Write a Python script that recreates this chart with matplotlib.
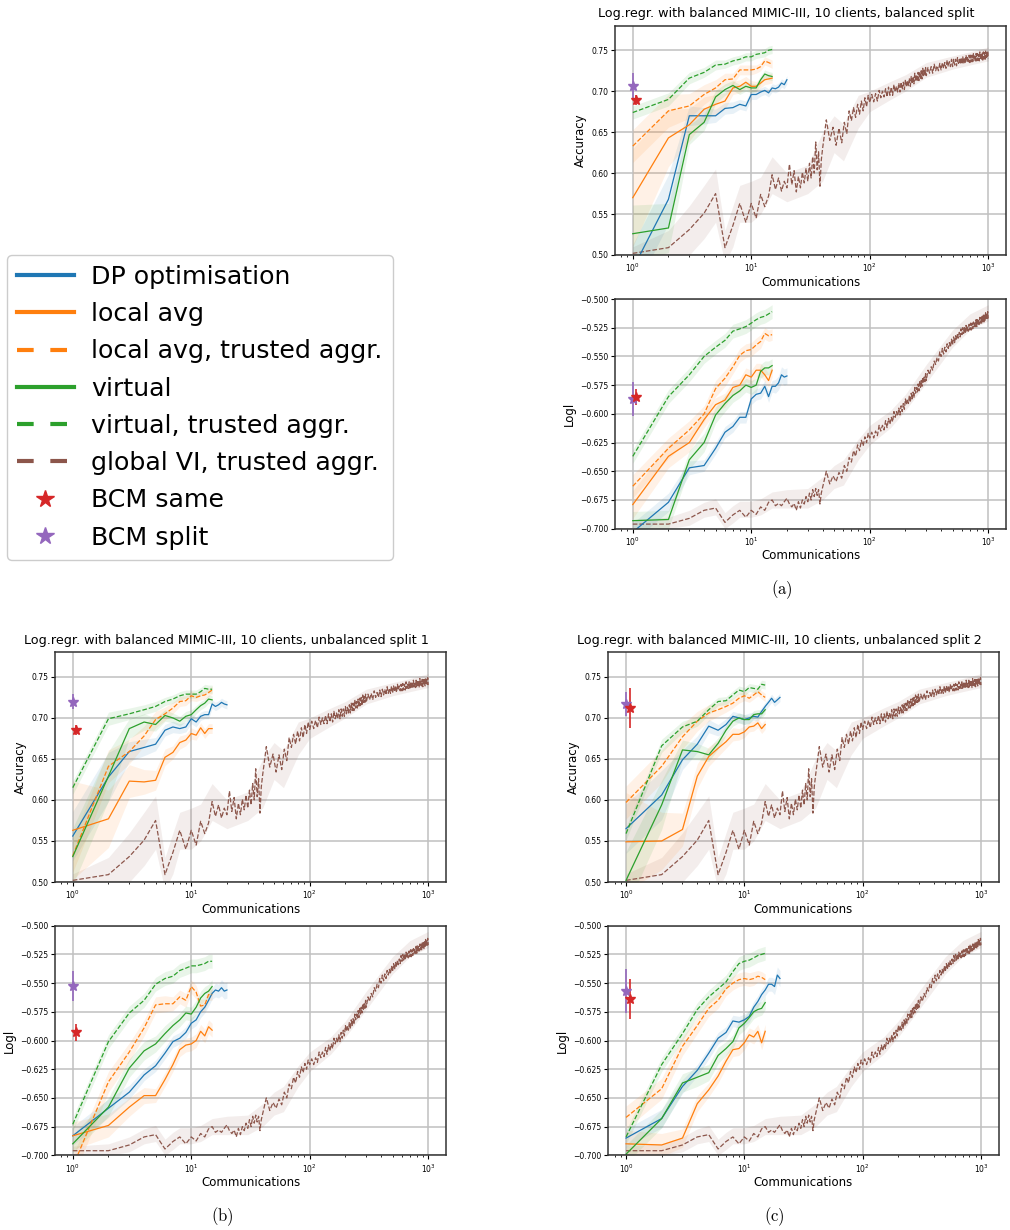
import numpy as np
import matplotlib.pyplot as plt
from matplotlib.lines import Line2D

# communications for the short runs
x20 = list(range(1, 21))
x15 = list(range(1, 16))

# ---- (a) balanced split
a_acc_dp = [0.483, 0.568, 0.670, 0.670, 0.670, 0.679, 0.680, 0.684, 0.682, 0.696, 0.696, 0.699, 0.701, 0.698, 0.704, 0.703, 0.705, 0.710, 0.708, 0.714]
a_acc_local = [0.570, 0.643, 0.659, 0.678, 0.684, 0.688, 0.704, 0.706, 0.711, 0.706, 0.706, 0.710, 0.714, 0.715, 0.716]
a_acc_local_ta = [0.633, 0.676, 0.682, 0.696, 0.704, 0.714, 0.715, 0.726, 0.726, 0.726, 0.727, 0.730, 0.737, 0.735, 0.733]
a_acc_virtual = [0.526, 0.533, 0.647, 0.662, 0.693, 0.702, 0.707, 0.702, 0.706, 0.704, 0.704, 0.714, 0.721, 0.719, 0.718]
a_acc_virtual_ta = [0.674, 0.690, 0.716, 0.723, 0.732, 0.733, 0.737, 0.739, 0.742, 0.742, 0.745, 0.746, 0.747, 0.750, 0.751]
a_ll_dp = [-0.703, -0.677, -0.647, -0.645, -0.630, -0.616, -0.611, -0.603, -0.603, -0.587, -0.583, -0.582, -0.576, -0.585, -0.576, -0.576, -0.573, -0.566, -0.568, -0.567]
a_ll_local = [-0.679, -0.637, -0.625, -0.605, -0.592, -0.588, -0.577, -0.575, -0.566, -0.568, -0.562, -0.562, -0.566, -0.571, -0.562]
a_ll_local_ta = [-0.663, -0.630, -0.614, -0.600, -0.578, -0.569, -0.559, -0.549, -0.545, -0.544, -0.540, -0.537, -0.530, -0.532, -0.531]
a_ll_virtual = [-0.693, -0.692, -0.640, -0.625, -0.601, -0.591, -0.584, -0.580, -0.575, -0.577, -0.575, -0.563, -0.560, -0.560, -0.558]
a_ll_virtual_ta = [-0.637, -0.585, -0.566, -0.550, -0.542, -0.536, -0.528, -0.526, -0.524, -0.521, -0.518, -0.516, -0.515, -0.513, -0.511]
a_bcm_acc = [0.706, 0.016, 0.689, 0.006]   # split mean, err, same mean, err
a_bcm_ll = [-0.587, 0.015, -0.585, 0.007]

# ---- (b) unbalanced split 1
b_acc_dp = [0.556, 0.628, 0.659, 0.664, 0.668, 0.685, 0.689, 0.687, 0.689, 0.699, 0.695, 0.702, 0.704, 0.704, 0.717, 0.714, 0.716, 0.719, 0.717, 0.716]
b_acc_local = [0.563, 0.577, 0.623, 0.622, 0.624, 0.652, 0.658, 0.670, 0.673, 0.681, 0.679, 0.688, 0.681, 0.687, 0.687]
b_acc_local_ta = [0.532, 0.641, 0.659, 0.678, 0.698, 0.705, 0.712, 0.720, 0.721, 0.727, 0.725, 0.727, 0.728, 0.731, 0.734]
b_acc_virtual = [0.531, 0.629, 0.687, 0.695, 0.692, 0.703, 0.700, 0.696, 0.702, 0.704, 0.710, 0.715, 0.718, 0.723, 0.722]
b_acc_virtual_ta = [0.615, 0.699, 0.705, 0.710, 0.714, 0.720, 0.723, 0.727, 0.729, 0.729, 0.729, 0.732, 0.736, 0.735, 0.735]
b_ll_dp = [-0.683, -0.659, -0.645, -0.630, -0.622, -0.611, -0.601, -0.598, -0.593, -0.585, -0.582, -0.575, -0.571, -0.565, -0.559, -0.556, -0.557, -0.554, -0.557, -0.556]
b_ll_local = [-0.683, -0.674, -0.658, -0.648, -0.648, -0.634, -0.621, -0.608, -0.604, -0.603, -0.600, -0.592, -0.596, -0.588, -0.591]
b_ll_local_ta = [-0.710, -0.636, -0.610, -0.589, -0.569, -0.568, -0.568, -0.562, -0.565, -0.553, -0.558, -0.570, -0.569, -0.560, -0.560]
b_ll_virtual = [-0.690, -0.658, -0.624, -0.609, -0.603, -0.594, -0.587, -0.582, -0.576, -0.577, -0.571, -0.563, -0.559, -0.557, -0.553]
b_ll_virtual_ta = [-0.673, -0.601, -0.576, -0.565, -0.551, -0.546, -0.544, -0.539, -0.537, -0.535, -0.535, -0.534, -0.533, -0.531, -0.531]
b_bcm_acc = [0.720, 0.009, 0.685, 0.006]
b_bcm_ll = [-0.5525, 0.013, -0.593, 0.007]

# ---- (c) unbalanced split 2
c_acc_dp = [0.565, 0.606, 0.649, 0.668, 0.690, 0.685, 0.692, 0.702, 0.700, 0.698, 0.700, 0.702, 0.701, 0.708, 0.714, 0.719, 0.724, 0.719, 0.722, 0.725]
c_acc_local = [0.549, 0.550, 0.564, 0.629, 0.653, 0.663, 0.671, 0.680, 0.680, 0.683, 0.689, 0.690, 0.694, 0.687, 0.692]
c_acc_local_ta = [0.597, 0.641, 0.677, 0.696, 0.706, 0.710, 0.714, 0.718, 0.724, 0.727, 0.724, 0.728, 0.732, 0.728, 0.725]
c_acc_virtual = [0.502, 0.594, 0.661, 0.659, 0.655, 0.669, 0.685, 0.696, 0.700, 0.698, 0.698, 0.704, 0.705, 0.705, 0.710]
c_acc_virtual_ta = [0.559, 0.666, 0.689, 0.696, 0.710, 0.720, 0.721, 0.728, 0.734, 0.732, 0.737, 0.736, 0.735, 0.741, 0.740]
c_ll_dp = [-0.685, -0.668, -0.640, -0.626, -0.611, -0.598, -0.593, -0.583, -0.584, -0.582, -0.579, -0.571, -0.566, -0.560, -0.556, -0.551, -0.551, -0.553, -0.543, -0.546]
c_ll_local = [-0.690, -0.691, -0.685, -0.655, -0.643, -0.631, -0.618, -0.608, -0.607, -0.602, -0.595, -0.597, -0.592, -0.602, -0.592]
c_ll_local_ta = [-0.667, -0.642, -0.605, -0.587, -0.572, -0.565, -0.555, -0.550, -0.547, -0.546, -0.547, -0.546, -0.544, -0.545, -0.547]
c_ll_virtual = [-0.699, -0.668, -0.637, -0.632, -0.628, -0.613, -0.607, -0.601, -0.589, -0.585, -0.580, -0.575, -0.573, -0.572, -0.567]
c_ll_virtual_ta = [-0.684, -0.621, -0.594, -0.573, -0.562, -0.555, -0.549, -0.540, -0.533, -0.531, -0.530, -0.528, -0.526, -0.525, -0.524]
c_bcm_acc = [0.717, 0.015, 0.712, 0.024]
c_bcm_ll = [-0.557, 0.019, -0.564, 0.0175]

bcm_x_split = 1.0
bcm_x_same = 1.07

# spread of the short runs (shared by the three splits)
sd_acc_dp = [0.03, 0.03, 0.012, 0.01, 0.008, 0.007, 0.007, 0.006, 0.006, 0.006, 0.006, 0.005, 0.005, 0.005, 0.005, 0.005, 0.005, 0.005, 0.005, 0.005]
sd_acc_local = [0.06, 0.035, 0.02, 0.015, 0.012, 0.01, 0.008, 0.008, 0.007, 0.007, 0.006, 0.006, 0.006, 0.006, 0.006]
sd_acc_local_ta = [0.02, 0.02, 0.015, 0.012, 0.01, 0.008, 0.007, 0.006, 0.006, 0.006, 0.005, 0.005, 0.005, 0.005, 0.005]
sd_acc_virtual = [0.035, 0.03, 0.012, 0.01, 0.008, 0.007, 0.006, 0.006, 0.006, 0.006, 0.005, 0.005, 0.005, 0.005, 0.005]
sd_acc_virtual_ta = [0.008, 0.008, 0.007, 0.006, 0.006, 0.005, 0.005, 0.005, 0.005, 0.005, 0.005, 0.005, 0.005, 0.005, 0.005]
sd_ll_dp = [0.008, 0.008, 0.006, 0.005, 0.005, 0.005, 0.005, 0.005, 0.005, 0.005, 0.005, 0.005, 0.005, 0.005, 0.005, 0.006, 0.006, 0.007, 0.007, 0.007]
sd_ll_local = [0.012, 0.01, 0.008, 0.007, 0.006, 0.006, 0.006, 0.006, 0.006, 0.006, 0.006, 0.006, 0.006, 0.006, 0.006]
sd_ll_local_ta = [0.01, 0.009, 0.008, 0.007, 0.007, 0.007, 0.006, 0.006, 0.006, 0.006, 0.006, 0.006, 0.005, 0.005, 0.005]
sd_ll_virtual = [0.008, 0.008, 0.008, 0.008, 0.007, 0.007, 0.006, 0.006, 0.006, 0.006, 0.006, 0.006, 0.006, 0.006, 0.006]
sd_ll_virtual_ta = [0.006, 0.006, 0.006, 0.006, 0.006, 0.006, 0.006, 0.006, 0.006, 0.006, 0.006, 0.006, 0.006, 0.006, 0.006]

# ---- global VI (same in all three splits)
gvi_x = list(range(1, 41)) + list(range(43, 101, 3)) + list(range(104, 301, 4)) + list(range(310, 1001, 10))
gvi_acc = [
    # 1 .. 40
    0.502, 0.509, 0.531, 0.551, 0.575, 0.509, 0.536, 0.563, 0.540, 0.563,
    0.545, 0.574, 0.559, 0.572, 0.598, 0.580, 0.594, 0.578, 0.590, 0.582,
    0.611, 0.586, 0.603, 0.577, 0.596, 0.582, 0.601, 0.588, 0.606, 0.590,
    0.612, 0.594, 0.620, 0.600, 0.638, 0.604, 0.626, 0.584, 0.616, 0.630,
    # 43 .. 100
    0.665, 0.640, 0.656, 0.634, 0.655, 0.637, 0.662, 0.648, 0.676, 0.664,
    0.680, 0.668, 0.684, 0.672, 0.688, 0.676, 0.692, 0.681, 0.695, 0.686,
    # 104 .. 300
    0.696, 0.687, 0.697, 0.688, 0.701, 0.692, 0.700, 0.693, 0.703, 0.693,
    0.705, 0.695, 0.705, 0.695, 0.708, 0.699, 0.706, 0.699, 0.710, 0.699,
    0.711, 0.702, 0.711, 0.702, 0.714, 0.705, 0.713, 0.706, 0.716, 0.706,
    0.718, 0.709, 0.718, 0.709, 0.722, 0.712, 0.720, 0.712, 0.723, 0.713,
    0.724, 0.715, 0.725, 0.715, 0.728, 0.719, 0.726, 0.719, 0.729, 0.719,
    # 310 .. 1000
    0.729, 0.722, 0.730, 0.722, 0.733, 0.725, 0.731, 0.725, 0.734, 0.726,
    0.735, 0.728, 0.735, 0.728, 0.738, 0.730, 0.736, 0.730, 0.739, 0.730,
    0.739, 0.732, 0.739, 0.731, 0.741, 0.734, 0.739, 0.733, 0.741, 0.733,
    0.742, 0.734, 0.741, 0.734, 0.744, 0.736, 0.741, 0.736, 0.744, 0.735,
    0.744, 0.736, 0.744, 0.736, 0.746, 0.738, 0.743, 0.737, 0.746, 0.737,
    0.746, 0.738, 0.745, 0.737, 0.748, 0.740, 0.745, 0.739, 0.747, 0.738,
    0.748, 0.740, 0.747, 0.739, 0.749, 0.741, 0.747, 0.741, 0.749, 0.740]
gvi_ll = [
    # 1 .. 40
    -0.696, -0.696, -0.691, -0.684, -0.682, -0.6945, -0.688, -0.684, -0.690, -0.684,
    -0.6875, -0.681, -0.684, -0.677, -0.675, -0.680, -0.678, -0.680, -0.6765, -0.6735,
    -0.6785, -0.681, -0.678, -0.684, -0.6765, -0.682, -0.675, -0.6785, -0.672, -0.6765,
    -0.669, -0.675, -0.666, -0.672, -0.665, -0.671, -0.666, -0.6785, -0.669, -0.664,
    # 43 .. 100
    -0.650, -0.661, -0.654, -0.659, -0.651, -0.656, -0.645, -0.650, -0.638, -0.642,
    -0.632, -0.637, -0.627, -0.632, -0.623, -0.628, -0.620, -0.625, -0.617, -0.621,
    # 104 .. 300
    -0.616, -0.621, -0.615, -0.619, -0.610, -0.615, -0.610, -0.614, -0.606, -0.612,
    -0.604, -0.609, -0.603, -0.607, -0.598, -0.603, -0.598, -0.602, -0.595, -0.601,
    -0.593, -0.598, -0.591, -0.596, -0.587, -0.592, -0.587, -0.591, -0.584, -0.590,
    -0.582, -0.587, -0.581, -0.586, -0.577, -0.582, -0.577, -0.581, -0.574, -0.580,
    -0.572, -0.577, -0.571, -0.576, -0.568, -0.573, -0.568, -0.572, -0.565, -0.571,
    # 310 .. 1000
    -0.562, -0.566, -0.559, -0.562, -0.554, -0.557, -0.551, -0.554, -0.546, -0.550,
    -0.543, -0.548, -0.542, -0.546, -0.539, -0.543, -0.538, -0.542, -0.535, -0.540,
    -0.533, -0.538, -0.532, -0.536, -0.530, -0.534, -0.529, -0.533, -0.526, -0.531,
    -0.525, -0.530, -0.525, -0.530, -0.523, -0.528, -0.524, -0.528, -0.522, -0.527,
    -0.521, -0.527, -0.521, -0.526, -0.520, -0.524, -0.520, -0.524, -0.518, -0.524,
    -0.517, -0.523, -0.518, -0.522, -0.516, -0.521, -0.516, -0.521, -0.515, -0.520,
    -0.514, -0.520, -0.514, -0.519, -0.512, -0.517, -0.513, -0.517, -0.511, -0.517]
gvi_band_x = [1, 2, 3, 4, 5, 6, 7, 8, 10, 12, 15, 20, 30, 40, 50, 60, 80, 100, 150, 200, 300, 500, 700, 1000]
gvi_acc_lo = [0.49, 0.49, 0.50, 0.52, 0.54, 0.49, 0.51, 0.54, 0.54, 0.55, 0.575, 0.565, 0.575, 0.59, 0.625, 0.615, 0.655, 0.675, 0.690, 0.700, 0.717, 0.727, 0.732, 0.737]
gvi_acc_hi = [0.51, 0.53, 0.56, 0.585, 0.605, 0.53, 0.56, 0.585, 0.59, 0.595, 0.62, 0.60, 0.61, 0.65, 0.67, 0.66, 0.695, 0.70, 0.712, 0.72, 0.735, 0.743, 0.748, 0.754]
gvi_ll_lo = [-0.70, -0.70, -0.697, -0.69, -0.688, -0.70, -0.695, -0.69, -0.69, -0.688, -0.682, -0.682, -0.682, -0.675, -0.665, -0.662, -0.64, -0.627, -0.612, -0.597, -0.573, -0.542, -0.527, -0.519]
gvi_ll_hi = [-0.692, -0.69, -0.684, -0.677, -0.674, -0.686, -0.68, -0.676, -0.676, -0.674, -0.668, -0.666, -0.665, -0.655, -0.645, -0.64, -0.622, -0.61, -0.597, -0.583, -0.557, -0.527, -0.513, -0.505]

labels = ["DP optimisation", "local avg", "local avg, trusted aggr.", "virtual",
          "virtual, trusted aggr.", "global VI, trusted aggr.", "BCM same", "BCM split"]
BLUE, ORANGE, GREEN, RED, PURPLE, BROWN = "#1f77b4", "#ff7f0e", "#2ca02c", "#d62728", "#9467bd", "#8c564b"

W, H = 1010, 1230
fig = plt.figure(figsize=(W / 100, H / 100), dpi=100)


def px_axes(left, top, right, bottom):
    return fig.add_axes([left / W, 1 - bottom / H, (right - left) / W, (bottom - top) / H])


def draw(ax, runs, sds, bcm, gvi_y, gvi_lo, gvi_hi, ylim, yticks, ylabel):
    styles = [(BLUE, "-"), (ORANGE, "-"), (ORANGE, "--"), (GREEN, "-"), (GREEN, "--")]
    ax.fill_between(gvi_band_x, gvi_lo, gvi_hi, color=BROWN, alpha=0.1, lw=0)
    for y, sd, (c, ls) in zip(runs, sds, styles):
        x = x20 if len(y) == 20 else x15
        y, sd = np.array(y), np.array(sd)
        ax.fill_between(x, y - sd, y + sd, color=c, alpha=0.1, lw=0)
    ax.plot(gvi_x, gvi_y, color=BROWN, ls="--", lw=0.9)
    for y, (c, ls) in zip(runs, styles):
        x = x20 if len(y) == 20 else x15
        ax.plot(x, y, color=c, ls=ls, lw=0.9)
    ax.errorbar(bcm_x_split, bcm[0], yerr=bcm[1], fmt="*", color=PURPLE, ms=7, elinewidth=1.2)
    ax.errorbar(bcm_x_same, bcm[2], yerr=bcm[3], fmt="*", color=RED, ms=7, elinewidth=1.2)
    ax.set_xscale("log")
    ax.set_xlim(10 ** -0.15, 10 ** 3.15)
    ax.set_ylim(*ylim)
    ax.set_yticks(yticks)
    ax.grid(True, which="major", color="#c0c0c0", lw=1.1)
    ax.set_axisbelow(True)
    ax.tick_params(which="major", labelsize=5.5, length=3, width=0.8, pad=2)
    ax.tick_params(which="minor", length=1.6, width=0.6)
    for s in ax.spines.values():
        s.set_linewidth(1.1)
        s.set_color("#333333")
    ax.set_xlabel("Communications", fontsize=8.5, labelpad=1)
    ax.set_ylabel(ylabel, fontsize=8.5, labelpad=3)


acc_ticks = [0.50, 0.55, 0.60, 0.65, 0.70, 0.75]
ll_ticks = [-0.700, -0.675, -0.650, -0.625, -0.600, -0.575, -0.550, -0.525, -0.500]
sds_acc = [sd_acc_dp, sd_acc_local, sd_acc_local_ta, sd_acc_virtual, sd_acc_virtual_ta]
sds_ll = [sd_ll_dp, sd_ll_local, sd_ll_local_ta, sd_ll_virtual, sd_ll_virtual_ta]

panels = [
    ("a", (615, 1006), (25.7, 255, 299, 528.7), (786, 13), (782, 590),
     [a_acc_dp, a_acc_local, a_acc_local_ta, a_acc_virtual, a_acc_virtual_ta], a_bcm_acc,
     [a_ll_dp, a_ll_local, a_ll_local_ta, a_ll_virtual, a_ll_virtual_ta], a_bcm_ll, "balanced split"),
    ("b", (55, 446), (652.3, 882, 925.7, 1155.3), (226, 640), (222, 1217),
     [b_acc_dp, b_acc_local, b_acc_local_ta, b_acc_virtual, b_acc_virtual_ta], b_bcm_acc,
     [b_ll_dp, b_ll_local, b_ll_local_ta, b_ll_virtual, b_ll_virtual_ta], b_bcm_ll, "unbalanced split 1"),
    ("c", (608.3, 998.7), (652.3, 882, 925.7, 1155.3), (779.5, 640), (774, 1217),
     [c_acc_dp, c_acc_local, c_acc_local_ta, c_acc_virtual, c_acc_virtual_ta], c_bcm_acc,
     [c_ll_dp, c_ll_local, c_ll_local_ta, c_ll_virtual, c_ll_virtual_ta], c_bcm_ll, "unbalanced split 2"),
]

for tag, (l, r), (t1, b1, t2, b2), tpos, cpos, acc_runs, bcm_acc, ll_runs, bcm_ll, split in panels:
    ax1 = px_axes(l, t1, r, b1)
    draw(ax1, acc_runs, sds_acc, bcm_acc, gvi_acc, gvi_acc_lo, gvi_acc_hi, (0.5, 0.78), acc_ticks, "Accuracy")
    ax2 = px_axes(l, t2, r, b2)
    draw(ax2, ll_runs, sds_ll, bcm_ll, gvi_ll, gvi_ll_lo, gvi_ll_hi, (-0.7, -0.5), ll_ticks, "Logl")
    fig.text(tpos[0] / W, 1 - tpos[1] / H, "Log.regr. with balanced MIMIC-III, 10 clients, " + split,
             ha="center", va="center", fontsize=9.2)
    fig.text(cpos[0] / W, 1 - cpos[1] / H, r"$\mathrm{(%s)}$" % tag, ha="center", va="center",
             fontsize=12, math_fontfamily="cm")

handles = [
    Line2D([], [], color=BLUE, lw=3),
    Line2D([], [], color=ORANGE, lw=3),
    Line2D([], [], color=ORANGE, lw=3, ls=(0, (4, 4))),
    Line2D([], [], color=GREEN, lw=3),
    Line2D([], [], color=GREEN, lw=3, ls=(0, (4, 4))),
    Line2D([], [], color=BROWN, lw=3, ls=(0, (4, 4))),
    Line2D([], [], color=RED, marker="*", ls="", ms=13),
    Line2D([], [], color=PURPLE, marker="*", ls="", ms=13),
]
fig.legend(handles, labels, loc="upper left", bbox_to_anchor=(6.7 / W, 1 - 254.7 / H),
           borderaxespad=0, fontsize=18.2, handlelength=2.25, handletextpad=0.7,
           labelspacing=0.525, framealpha=1)

fig.savefig("out.png", dpi=100)
